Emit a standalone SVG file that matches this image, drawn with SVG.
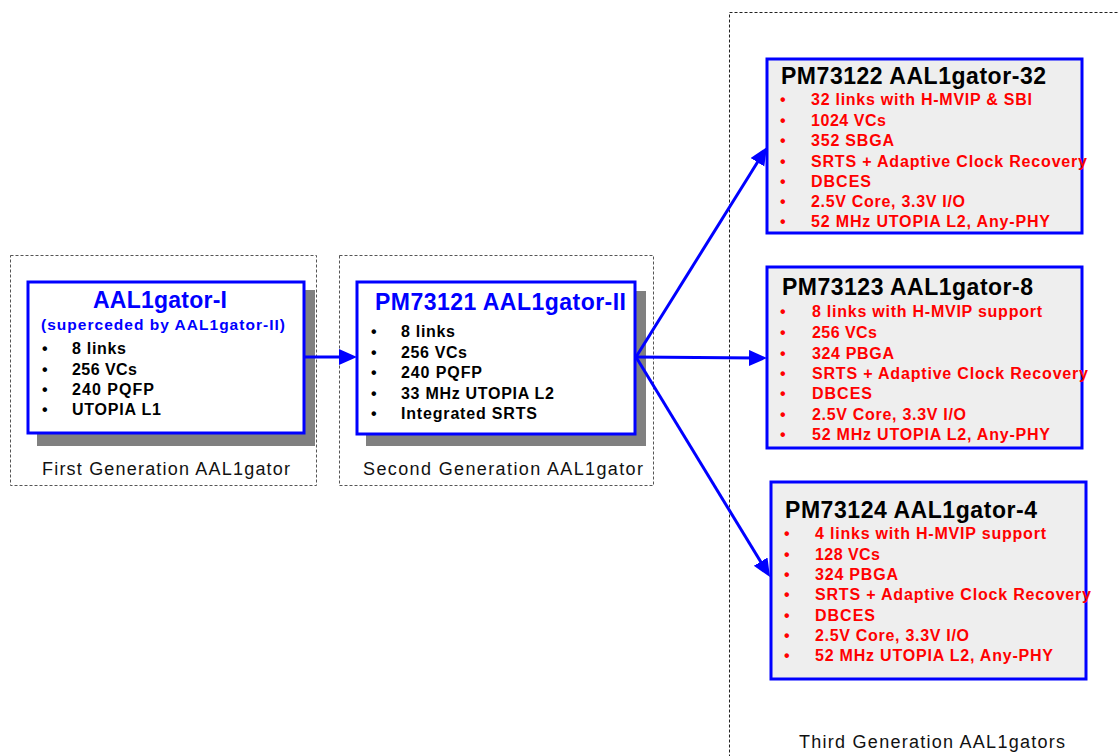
<svg xmlns="http://www.w3.org/2000/svg" width="1119" height="756" viewBox="0 0 1119 756">
<style>
text{font-family:"Liberation Sans",Arial,sans-serif;}
.grp{fill:none;stroke:#555;stroke-width:1;stroke-dasharray:3,2;}
.grp3{fill:none;stroke:#222;stroke-width:1;stroke-dasharray:3,2;}
.shadow{fill:#808080;}
.box1{fill:#fff;stroke:#0000ff;stroke-width:3;}
.box3{fill:#eeeeee;stroke:#0000ff;stroke-width:3;}
.ttl{font-size:23px;font-weight:bold;}
.blue{fill:#0000ff;}
.blk{fill:#000;}
.red{fill:#ff0000;}
.it{font-size:16px;font-weight:bold;}
.lbl{font-size:18px;fill:#111;}
.conn{stroke:#0000ff;stroke-width:3;fill:none;marker-end:url(#ah);}
</style>
<defs>
<marker id="ah" markerUnits="userSpaceOnUse" markerWidth="20" markerHeight="18" refX="8" refY="8" orient="auto">
<path d="M0,0 L18,8 L0,16 z" fill="#0000ff"/>
</marker>
</defs>
<rect width="1119" height="756" fill="#fff"/>
<g id="group-first">
<rect class="grp" x="10.5" y="255.5" width="306" height="230"/>
<text class="lbl" x="42" y="475" textLength="248" lengthAdjust="spacing">First Generation AAL1gator</text>
</g>
<g id="group-second">
<rect class="grp" x="339.5" y="255.5" width="314" height="230"/>
<text class="lbl" x="363" y="475" textLength="280" lengthAdjust="spacing">Second Generation AAL1gator</text>
</g>
<g id="group-third">
<rect class="grp3" x="729.5" y="12.5" width="420" height="800"/>
<text class="lbl" x="799" y="748" textLength="266" lengthAdjust="spacing">Third Generation AAL1gators</text>
</g>
<g id="node-aal1gator-i">
<rect class="shadow" x="37" y="290" width="278" height="156"/>
<rect class="box1" x="28" y="282" width="276" height="151"/>
<text class="ttl blue" x="93" y="308" textLength="134" lengthAdjust="spacing">AAL1gator-I</text>
<text class="blue" x="41" y="330" font-size="15.5" font-weight="bold" textLength="244" lengthAdjust="spacing">(superceded by AAL1gator-II)</text>
<g class="it blk">
<text x="42" y="354">•</text><text x="72" y="354" textLength="54" lengthAdjust="spacing">8 links</text>
<text x="42" y="374.5">•</text><text x="72" y="374.5" textLength="65" lengthAdjust="spacing">256 VCs</text>
<text x="42" y="395">•</text><text x="72" y="395" textLength="82" lengthAdjust="spacing">240 PQFP</text>
<text x="42" y="415">•</text><text x="72" y="415" textLength="89" lengthAdjust="spacing">UTOPIA L1</text>
</g>
</g>
<g id="node-pm73121">
<rect class="shadow" x="366" y="291" width="280" height="155"/>
<rect class="box1" x="357" y="282" width="278" height="152"/>
<text class="ttl blue" x="375" y="310" textLength="251" lengthAdjust="spacing">PM73121 AAL1gator-II</text>
<g class="it blk">
<text x="371" y="337">•</text><text x="401" y="337" textLength="54" lengthAdjust="spacing">8 links</text>
<text x="371" y="357.5">•</text><text x="401" y="357.5" textLength="66" lengthAdjust="spacing">256 VCs</text>
<text x="371" y="378">•</text><text x="401" y="378" textLength="81" lengthAdjust="spacing">240 PQFP</text>
<text x="371" y="398.5">•</text><text x="401" y="398.5" textLength="153" lengthAdjust="spacing">33 MHz UTOPIA L2</text>
<text x="371" y="419">•</text><text x="401" y="419" textLength="136" lengthAdjust="spacing">Integrated SRTS</text>
</g>
</g>
<g id="node-pm73122">
<rect class="box3" x="767" y="59" width="315" height="174"/>
<text class="ttl blk" x="781" y="84" textLength="265" lengthAdjust="spacing">PM73122 AAL1gator-32</text>
<g class="it red">
<text x="780" y="105">•</text><text x="811" y="105" textLength="221" lengthAdjust="spacing">32 links with H-MVIP &amp; SBI</text>
<text x="780" y="125.5">•</text><text x="811" y="125.5" textLength="75" lengthAdjust="spacing">1024 VCs</text>
<text x="780" y="146">•</text><text x="811" y="146" textLength="83" lengthAdjust="spacing">352 SBGA</text>
<text x="780" y="166.5">•</text><text x="811" y="166.5" textLength="276" lengthAdjust="spacing">SRTS + Adaptive Clock Recovery</text>
<text x="780" y="187">•</text><text x="811" y="187" textLength="60" lengthAdjust="spacing">DBCES</text>
<text x="780" y="207">•</text><text x="811" y="207" textLength="154" lengthAdjust="spacing">2.5V Core, 3.3V I/O</text>
<text x="780" y="227">•</text><text x="811" y="227" textLength="239" lengthAdjust="spacing">52 MHz UTOPIA L2, Any-PHY</text>
</g>
</g>
<g id="node-pm73123">
<rect class="box3" x="767" y="267" width="315" height="181"/>
<text class="ttl blk" x="782" y="295" textLength="251" lengthAdjust="spacing">PM73123 AAL1gator-8</text>
<g class="it red">
<text x="780" y="317">•</text><text x="812" y="317" textLength="230" lengthAdjust="spacing">8 links with H-MVIP support</text>
<text x="780" y="338">•</text><text x="812" y="338" textLength="65" lengthAdjust="spacing">256 VCs</text>
<text x="780" y="358.5">•</text><text x="812" y="358.5" textLength="82" lengthAdjust="spacing">324 PBGA</text>
<text x="780" y="379">•</text><text x="812" y="379" textLength="276" lengthAdjust="spacing">SRTS + Adaptive Clock Recovery</text>
<text x="780" y="399">•</text><text x="812" y="399" textLength="60" lengthAdjust="spacing">DBCES</text>
<text x="780" y="419.5">•</text><text x="812" y="419.5" textLength="154" lengthAdjust="spacing">2.5V Core, 3.3V I/O</text>
<text x="780" y="440">•</text><text x="812" y="440" textLength="238" lengthAdjust="spacing">52 MHz UTOPIA L2, Any-PHY</text>
</g>
</g>
<g id="node-pm73124">
<rect class="box3" x="771" y="482" width="315" height="197"/>
<text class="ttl blk" x="785" y="518" textLength="252" lengthAdjust="spacing">PM73124 AAL1gator-4</text>
<g class="it red">
<text x="784" y="539">•</text><text x="815" y="539" textLength="231" lengthAdjust="spacing">4 links with H-MVIP support</text>
<text x="784" y="559.5">•</text><text x="815" y="559.5" textLength="65" lengthAdjust="spacing">128 VCs</text>
<text x="784" y="580">•</text><text x="815" y="580" textLength="83" lengthAdjust="spacing">324 PBGA</text>
<text x="784" y="600">•</text><text x="815" y="600" textLength="276" lengthAdjust="spacing">SRTS + Adaptive Clock Recovery</text>
<text x="784" y="620.5">•</text><text x="815" y="620.5" textLength="60" lengthAdjust="spacing">DBCES</text>
<text x="784" y="641">•</text><text x="815" y="641" textLength="154" lengthAdjust="spacing">2.5V Core, 3.3V I/O</text>
<text x="784" y="661">•</text><text x="815" y="661" textLength="238" lengthAdjust="spacing">52 MHz UTOPIA L2, Any-PHY</text>
</g>
</g>
<g id="connectors">
<path class="conn" d="M304,357 L347,357"/>
<path class="conn" d="M636,357 L761.7,155.5"/>
<path class="conn" d="M636,357 L757,358"/>
<path class="conn" d="M636,357 L764.8,568.5"/>
</g>
</svg>
